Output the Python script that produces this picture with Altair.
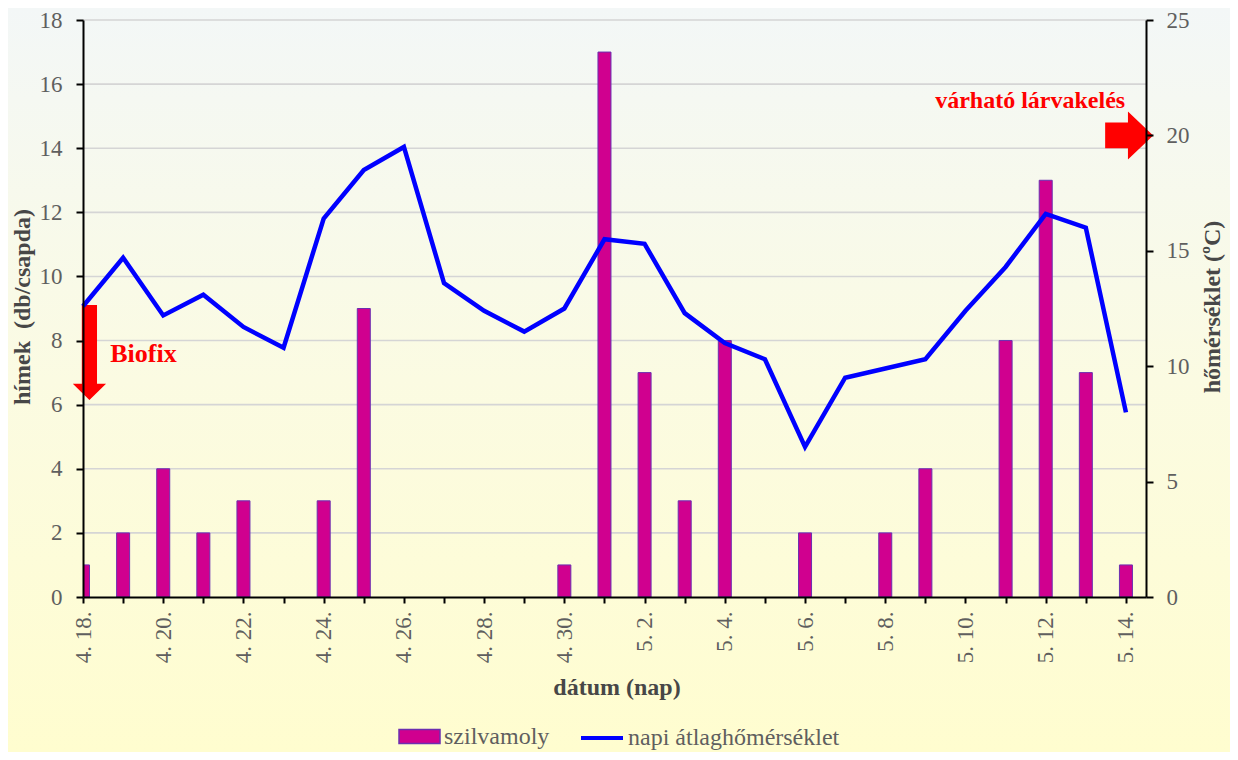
import json
import altair as alt
import pandas as pd

# ---------------- data ----------------
dates = ["4. 18.", "4. 19.", "4. 20.", "4. 21.", "4. 22.", "4. 23.", "4. 24.",
         "4. 25.", "4. 26.", "4. 27.", "4. 28.", "4. 29.", "4. 30.", "5. 1.",
         "5. 2.", "5. 3.", "5. 4.", "5. 5.", "5. 6.", "5. 7.", "5. 8.", "5. 9.",
         "5. 10.", "5. 11.", "5. 12.", "5. 13.", "5. 14."]
moth = [1, 2, 4, 2, 3, 0, 3, 9, 0, 0, 0, 0, 1, 17, 7, 3, 8, 0, 2, 0, 2, 4, 0, 8, 13, 7, 1]
temp = [12.6, 14.7, 12.2, 13.1, 11.7, 10.8, 16.4, 18.5, 19.5, 13.6, 12.4, 11.5, 12.5,
        15.5, 15.3, 12.3, 11.0, 10.3, 6.5, 9.5, 9.9, 10.3, 12.4, 14.3, 16.6, 16.0, 8.0]
left_ticks = [0, 2, 4, 6, 8, 10, 12, 14, 16, 18]
right_ticks = [0, 5, 10, 15, 20, 25]
bar_name = "szilvamoly"
line_name = "napi átlaghőmérséklet"

# annotations (data coordinates)
biofix_arrow = {"x": [0.16], "y": [7.63]}
biofix_text = {"x": [0.68], "y": [7.32], "t": ["Biofix"]}
larva_arrow = {"x": [26.08], "y": [20.0]}
larva_text = {"x": [25.98], "y": [21.2], "t": ["várható lárvakelés"]}

# ---------------- layout / style ----------------
W, H = 1063, 577
PAD = {"left": 75, "top": 12, "right": 84, "bottom": 155}
FONT = "Liberation Serif"
LABEL_C = "#5f5f5f"
TITLE_C = "#474747"
MAGENTA = "#d0008f"
BLUE = "#0000ff"
RED = "#ff0000"

idx = list(range(len(dates)))
df = pd.DataFrame({"i": idx, "date": dates, "moth": moth, "temp": temp})
df["s1"] = bar_name
df["s2"] = line_name
bars_df = df[df["moth"] > 0]

shown = [d if i % 2 == 0 else "" for i, d in enumerate(dates)]
label_expr = json.dumps(shown, ensure_ascii=False) + "[datum.value]"

x_scale = alt.Scale(domain=[0, len(dates) - 0.5], nice=False, zero=False, padding=0)
x_axis = alt.Axis(values=idx, labelExpr=label_expr, labelAngle=270, labelFont=FONT,
                  labelFontSize=23, labelColor=LABEL_C, labelPadding=8,
                  tickSize=6, tickColor="black", tickWidth=2, domainColor="black",
                  domainWidth=2, grid=False, title="dátum (nap)", titleFont=FONT,
                  titleFontSize=24, titleFontWeight="bold", titleColor=TITLE_C,
                  titleX=W / 2 + 2, titleY=90, titleBaseline="middle",
                  labelOverlap=False, zindex=1)

yl_scale = alt.Scale(domain=[0, 18], nice=False)
yl_axis = alt.Axis(values=left_ticks, labelFont=FONT, labelFontSize=23, labelColor=LABEL_C,
                   labelPadding=14, tickSize=7, tickColor="black", tickWidth=2,
                   domainColor="black", domainWidth=2, grid=False,
                   title="hímek\u00a0 (db/csapda)", titleFont=FONT, titleFontSize=24,
                   titleFontWeight="bold", titleColor=TITLE_C, titleAngle=270,
                   titleX=-61, titleY=H / 2 - 2, titleBaseline="middle", titleAlign="center",
                   orient="left", zindex=1)

yr_scale = alt.Scale(domain=[0, 25], nice=False)
yr_axis = alt.Axis(values=right_ticks, labelFont=FONT, labelFontSize=23, labelColor=LABEL_C,
                   labelPadding=13, tickSize=7, tickColor="black", tickWidth=2,
                   domainColor="black", domainWidth=2, grid=False,
                   title="hőmérséklet (ºC)", titleFont=FONT, titleFontSize=24,
                   titleFontWeight="bold", titleColor=TITLE_C, titleAngle=270,
                   titleX=66, titleY=H / 2 - 2, titleBaseline="middle", titleAlign="center",
                   orient="right", zindex=1)


def X(field="i"):
    return alt.X(f"{field}:Q", scale=x_scale, axis=x_axis)


def YL(field):
    return alt.Y(f"{field}:Q", scale=yl_scale, axis=yl_axis)


def YR(field):
    return alt.Y(f"{field}:Q", scale=yr_scale, axis=yr_axis)


gradient = {"gradient": "linear", "x1": 0, "y1": 0, "x2": 0, "y2": 1,
            "stops": [{"offset": 0, "color": "#f3f7f7"},
                      {"offset": 0.5, "color": "#fbfbe2"},
                      {"offset": 1, "color": "#fffdcf"}]}

bg = alt.Chart(pd.DataFrame({"a": [0]})).mark_rect(fill=gradient, strokeWidth=0).encode(
    x=alt.value(-PAD["left"]), x2=alt.value(W + PAD["right"]),
    y=alt.value(-PAD["top"]), y2=alt.value(H + PAD["bottom"]))

grid = alt.Chart(pd.DataFrame({"g": left_ticks[1:]})).mark_rule(
    color="#d5d5d5", strokeWidth=1.6).encode(
    y=YL("g"), x=alt.value(0), x2=alt.value(W))

bars = alt.Chart(bars_df).mark_bar(size=13, stroke="#6b2fb0", strokeWidth=1, clip=True).encode(
    x=X(), y=YL("moth"),
    fill=alt.Fill("s1:N", scale=alt.Scale(range=[MAGENTA]),
                  legend=alt.Legend(orient="none", legendX=315, legendY=695, title=None,
                                    symbolType="M-1,-0.34H1V0.34H-1Z", symbolSize=1681,
                                    symbolStrokeColor="#6b2fb0", symbolStrokeWidth=1.5,
                                    labelFont=FONT, labelFontSize=24, labelColor=LABEL_C,
                                    labelOffset=3, labelLimit=400, padding=0)))

b_arrow = alt.Chart(pd.DataFrame(biofix_arrow)).mark_point(
    shape="M-0.16,-1L0.16,-1L0.16,0.66L0.35,0.66L0,1L-0.35,0.66L-0.16,0.66Z",
    size=9025, filled=True, color=RED, opacity=1, strokeWidth=0).encode(x=X("x"), y=YL("y"))

b_text = alt.Chart(pd.DataFrame(biofix_text)).mark_text(
    align="left", baseline="alphabetic", font=FONT, fontWeight="bold", fontSize=26,
    color=RED).encode(x=X("x"), y=YL("y"), text="t:N")

left = alt.layer(bg, grid, bars, b_arrow, b_text)

line = alt.Chart(df).mark_line(strokeWidth=4.5, strokeJoin="miter").encode(
    x=X(), y=YR("temp"),
    stroke=alt.Stroke("s2:N", scale=alt.Scale(range=[BLUE]),
                      legend=alt.Legend(orient="none", legendX=496, legendY=695, title=None,
                                        symbolType="stroke", symbolSize=1764,
                                        symbolStrokeWidth=4, symbolStrokeColor=BLUE,
                                        labelFont=FONT, labelFontSize=24, labelColor=LABEL_C,
                                        labelOffset=3, labelLimit=400, padding=0)))

l_arrow = alt.Chart(pd.DataFrame(larva_arrow)).mark_point(
    shape="M-1,-0.54L-0.05,-0.54L-0.05,-1L1,0L-0.05,1L-0.05,0.54L-1,0.54Z",
    size=2304, filled=True, color=RED, opacity=1, strokeWidth=0).encode(x=X("x"), y=YR("y"))

l_text = alt.Chart(pd.DataFrame(larva_text)).mark_text(
    align="right", baseline="alphabetic", font=FONT, fontWeight="bold", fontSize=24,
    color=RED).encode(x=X("x"), y=YR("y"), text="t:N")

right = alt.layer(line, l_arrow, l_text)

chart = alt.layer(left, right).resolve_scale(y="independent").properties(
    width=W, height=H, padding=PAD, autosize=alt.AutoSizeParams(type="none"),
    background="#fffdcf").configure_view(stroke=None)

chart.save("out.html", embed_options={"renderer": "svg", "actions": False})
